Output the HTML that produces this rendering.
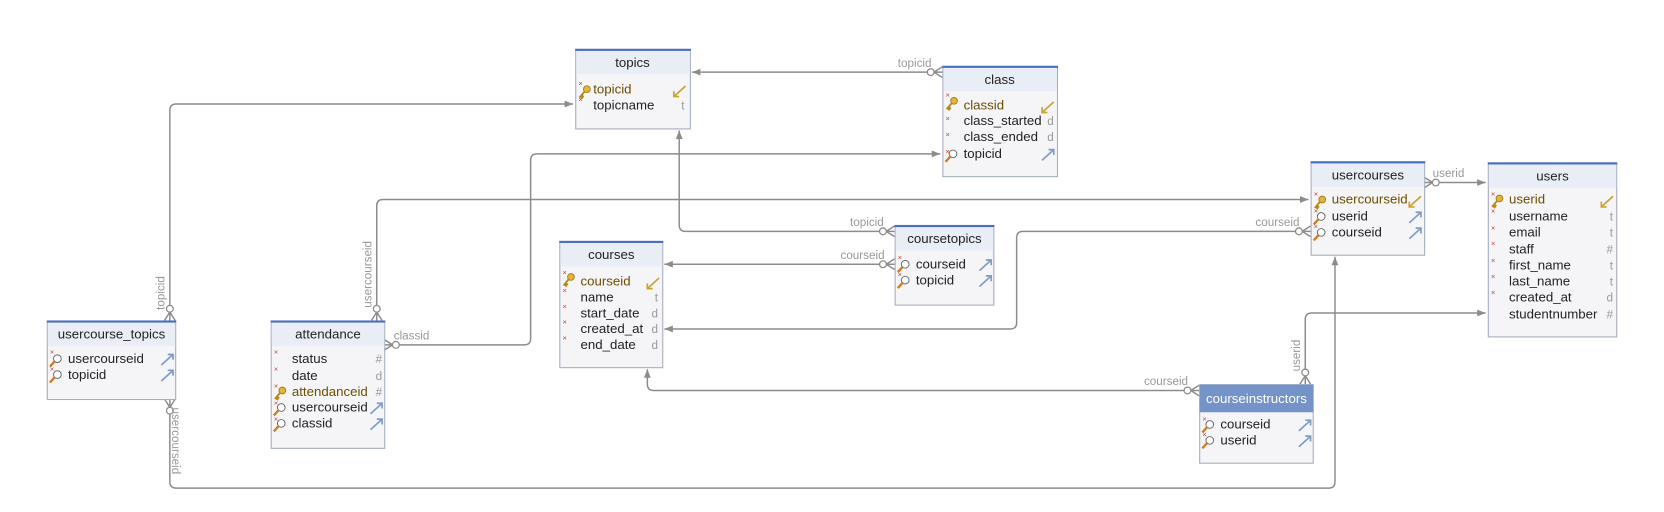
<!DOCTYPE html>
<html><head><meta charset="utf-8"><style>
html,body{margin:0;padding:0;background:#fff;}
svg{display:block;}
text{font-family:"Liberation Sans",sans-serif;}
.t{font-size:12.5px;fill:#222;}
.pk{font-size:12.5px;fill:#6b4e00;}
.h{font-size:12.5px;fill:#222;text-anchor:middle;}
.ty{font-size:11px;fill:#999;text-anchor:end;}
.lb{font-size:11px;fill:#999;}
.c{fill:none;stroke:#8c8c8c;stroke-width:1.4;}
.x{font-size:7px;fill:#c04040;}
</style></head><body>
<svg width="1664" height="512" viewBox="0 0 1568 482.5" xmlns="http://www.w3.org/2000/svg">
<defs>
<marker id="ar" viewBox="0 0 10 10" refX="10" refY="5" markerWidth="8" markerHeight="8" orient="auto-start-reverse" markerUnits="userSpaceOnUse"><path d="M0,1 L10,5 L0,9 z" fill="#8c8c8c"/></marker>
<g id="key"><circle cx="9" cy="-4" r="3.2" fill="#e2b43a" stroke="#a07810" stroke-width="0.8"/><path d="M7,-2 L2,4 M3,3 L5,5 M4,1.5 L6,3.5" stroke="#b88a18" stroke-width="1.8" fill="none"/></g>
<g id="mag"><circle cx="10" cy="-4" r="3.6" fill="#fff" stroke="#666" stroke-width="0.9"/><path d="M7.5,-1.5 L3,3.5" stroke="#d27a20" stroke-width="2.2"/></g>
<g id="fk"><path d="M-12,3 L-1,-7 M-6,-7 L-1,-7 L-1,-2" stroke="#7f9cc8" stroke-width="1.6" fill="none"/></g>
<g id="pka"><path d="M-1,-7 L-12,3 M-12,-2 L-12,3 L-7,3" stroke="#c9a536" stroke-width="1.6" fill="none"/></g>
<g id="crow"><path d="M0,-5 L8,0 L0,5 M0,0 L8,0" class="c"/><circle cx="11" cy="0" r="3.2" fill="#fff" stroke="#8c8c8c" stroke-width="1.2"/></g>
</defs>

<path class="c" d="M876,68 H652" marker-end="url(#ar)"/>
<use href="#crow" transform="translate(888,68) rotate(180)"/>
<text class="lb" x="846" y="63">topicid</text>
<path class="c" d="M160,290 V104 Q160,98 166,98 H540" marker-end="url(#ar)"/>
<use href="#crow" transform="translate(160,302) rotate(-90)"/>
<text class="lb" transform="translate(155,292) rotate(-90)">topicid</text>
<path class="c" d="M374,325 H494 Q500,325 500,319 V151 Q500,145 506,145 H886" marker-end="url(#ar)"/>
<use href="#crow" transform="translate(362,325)"/>
<text class="lb" x="371" y="320">classid</text>
<path class="c" d="M355,290 V194 Q355,188 361,188 H1233" marker-end="url(#ar)"/>
<use href="#crow" transform="translate(355,302) rotate(-90)"/>
<text class="lb" transform="translate(350,290) rotate(-90)">usercourseid</text>
<path class="c" d="M831,218 H646 Q640,218 640,212 V123" marker-end="url(#ar)"/>
<use href="#crow" transform="translate(843,218) rotate(180)"/>
<text class="lb" x="801" y="213">topicid</text>
<path class="c" d="M831,249 H626" marker-end="url(#ar)"/>
<use href="#crow" transform="translate(843,249) rotate(180)"/>
<text class="lb" x="792" y="244">courseid</text>
<path class="c" d="M1223,218 H964 Q958,218 958,224 V304 Q958,310 952,310 H626" marker-end="url(#ar)"/>
<use href="#crow" transform="translate(1235,218) rotate(180)"/>
<text class="lb" x="1183" y="213">courseid</text>
<path class="c" d="M1354,172 H1400" marker-end="url(#ar)"/>
<use href="#crow" transform="translate(1342,172)"/>
<text class="lb" x="1350" y="167">userid</text>
<path class="c" d="M1118,368 H616 Q610,368 610,362 V348" marker-end="url(#ar)"/>
<use href="#crow" transform="translate(1130,368) rotate(180)"/>
<text class="lb" x="1078" y="363">courseid</text>
<path class="c" d="M1230,350 V301 Q1230,295 1236,295 H1400" marker-end="url(#ar)"/>
<use href="#crow" transform="translate(1230,362) rotate(-90)"/>
<text class="lb" transform="translate(1225,350) rotate(-90)">userid</text>
<path class="c" d="M160,388 V454 Q160,460 166,460 H1252 Q1258,460 1258,454 V242" marker-end="url(#ar)"/>
<use href="#crow" transform="translate(160,376) rotate(90)"/>
<text class="lb" transform="translate(162,384) rotate(90)">usercourseid</text>

<g transform="translate(542,46)">
<rect x="0.5" y="0.5" width="108" height="75" fill="#f5f5f7" stroke="#a3abbd"/>
<rect x="1" y="1" width="107" height="23" fill="#e8edf6"/>
<rect x="0" y="0" width="109" height="2" fill="#4a6fc0"/>
<text class="h" x="54" y="17">topics</text>
<text class="x" x="3" y="35">×</text><use href="#key" x="2" y="42"/><text class="pk" x="17" y="42">topicid</text><use href="#pka" x="105" y="42"/>
<text class="x" x="3" y="50">×</text><text class="t" x="17" y="57">topicname</text><text class="ty" x="103" y="57">t</text>
</g>
<g transform="translate(888,62)">
<rect x="0.5" y="0.5" width="108" height="104" fill="#f5f5f7" stroke="#a3abbd"/>
<rect x="1" y="1" width="107" height="23" fill="#e8edf6"/>
<rect x="0" y="0" width="109" height="2" fill="#4a6fc0"/>
<text class="h" x="54" y="17">class</text>
<text class="x" x="3" y="30">×</text><use href="#key" x="2" y="37"/><text class="pk" x="20" y="41">classid</text><use href="#pka" x="106" y="41"/>
<text class="x" x="3" y="52">×</text><text class="t" x="20" y="56">class_started</text><text class="ty" x="105" y="56">d</text>
<text class="x" x="3" y="67">×</text><text class="t" x="20" y="71">class_ended</text><text class="ty" x="105" y="71">d</text>
<text class="x" x="3" y="83">×</text><use href="#mag" x="0" y="87"/><text class="t" x="20" y="87">topicid</text><use href="#fk" x="106" y="86"/>
</g>
<g transform="translate(1235,152)">
<rect x="0.5" y="0.5" width="107" height="88" fill="#f5f5f7" stroke="#a3abbd"/>
<rect x="1" y="1" width="106" height="23" fill="#e8edf6"/>
<rect x="0" y="0" width="108" height="2" fill="#4a6fc0"/>
<text class="h" x="54" y="17">usercourses</text>
<text class="x" x="3" y="33">×</text><use href="#key" x="2" y="40"/><text class="pk" x="20" y="40">usercourseid</text><use href="#pka" x="105" y="40"/>
<text class="x" x="3" y="49">×</text><use href="#mag" x="0" y="56"/><text class="t" x="20" y="56">userid</text><use href="#fk" x="105" y="55"/>
<text class="x" x="3" y="64">×</text><use href="#mag" x="0" y="71"/><text class="t" x="20" y="71">courseid</text><use href="#fk" x="105" y="70"/>
</g>
<g transform="translate(1402,153)">
<rect x="0.5" y="0.5" width="121" height="164" fill="#f5f5f7" stroke="#a3abbd"/>
<rect x="1" y="1" width="120" height="23" fill="#e8edf6"/>
<rect x="0" y="0" width="122" height="2" fill="#4a6fc0"/>
<text class="h" x="61" y="17">users</text>
<text class="x" x="3" y="32">×</text><use href="#key" x="2" y="38"/><text class="pk" x="20" y="39">userid</text><use href="#pka" x="119" y="39"/>
<text class="x" x="3" y="48">×</text><text class="t" x="20" y="55">username</text><text class="ty" x="118" y="55">t</text>
<text class="x" x="3" y="64">×</text><text class="t" x="20" y="70">email</text><text class="ty" x="118" y="70">t</text>
<text class="x" x="3" y="79">×</text><text class="t" x="20" y="86">staff</text><text class="ty" x="118" y="86">#</text>
<text class="x" x="3" y="95">×</text><text class="t" x="20" y="101">first_name</text><text class="ty" x="118" y="101">t</text>
<text class="x" x="3" y="110">×</text><text class="t" x="20" y="116">last_name</text><text class="ty" x="118" y="116">t</text>
<text class="x" x="3" y="125">×</text><text class="t" x="20" y="131">created_at</text><text class="ty" x="118" y="131">d</text>
<text class="t" x="20" y="147">studentnumber</text><text class="ty" x="118" y="147">#</text>
</g>
<g transform="translate(527,227)">
<rect x="0.5" y="0.5" width="97" height="119" fill="#f5f5f7" stroke="#a3abbd"/>
<rect x="1" y="1" width="96" height="23" fill="#e8edf6"/>
<rect x="0" y="0" width="98" height="2" fill="#4a6fc0"/>
<text class="h" x="49" y="17">courses</text>
<text class="x" x="3" y="32">×</text><use href="#key" x="2" y="38"/><text class="pk" x="20" y="42">courseid</text><use href="#pka" x="95" y="42"/>
<text class="x" x="3" y="49">×</text><text class="t" x="20" y="57">name</text><text class="ty" x="93" y="57">t</text>
<text class="x" x="3" y="64">×</text><text class="t" x="20" y="72">start_date</text><text class="ty" x="93" y="72">d</text>
<text class="x" x="3" y="79">×</text><text class="t" x="20" y="87">created_at</text><text class="ty" x="93" y="87">d</text>
<text class="x" x="3" y="94">×</text><text class="t" x="20" y="102">end_date</text><text class="ty" x="93" y="102">d</text>
</g>
<g transform="translate(843,212)">
<rect x="0.5" y="0.5" width="93" height="75" fill="#f5f5f7" stroke="#a3abbd"/>
<rect x="1" y="1" width="92" height="23" fill="#e8edf6"/>
<rect x="0" y="0" width="94" height="2" fill="#4a6fc0"/>
<text class="h" x="47" y="17">coursetopics</text>
<text class="x" x="3" y="33">×</text><use href="#mag" x="0" y="41"/><text class="t" x="20" y="41">courseid</text><use href="#fk" x="92" y="40"/>
<text class="x" x="3" y="49">×</text><use href="#mag" x="0" y="56"/><text class="t" x="20" y="56">topicid</text><use href="#fk" x="92" y="55"/>
</g>
<g transform="translate(44,302)">
<rect x="0.5" y="0.5" width="121" height="74" fill="#f5f5f7" stroke="#a3abbd"/>
<rect x="1" y="1" width="120" height="23" fill="#e8edf6"/>
<rect x="0" y="0" width="122" height="2" fill="#4a6fc0"/>
<text class="h" x="61" y="17">usercourse_topics</text>
<text class="x" x="3" y="32">×</text><use href="#mag" x="0" y="40"/><text class="t" x="20" y="40">usercourseid</text><use href="#fk" x="120" y="39"/>
<text class="x" x="3" y="48">×</text><use href="#mag" x="0" y="55"/><text class="t" x="20" y="55">topicid</text><use href="#fk" x="120" y="54"/>
</g>
<g transform="translate(255,302)">
<rect x="0.5" y="0.5" width="107" height="120" fill="#f5f5f7" stroke="#a3abbd"/>
<rect x="1" y="1" width="106" height="23" fill="#e8edf6"/>
<rect x="0" y="0" width="108" height="2" fill="#4a6fc0"/>
<text class="h" x="54" y="17">attendance</text>
<text class="x" x="3" y="32">×</text><text class="t" x="20" y="40">status</text><text class="ty" x="105" y="40">#</text>
<text class="x" x="3" y="48">×</text><text class="t" x="20" y="56">date</text><text class="ty" x="105" y="56">d</text>
<text class="x" x="3" y="64">×</text><use href="#key" x="2" y="70"/><text class="pk" x="20" y="71">attendanceid</text><text class="ty" x="105" y="71">#</text>
<text class="x" x="3" y="80">×</text><use href="#mag" x="0" y="86"/><text class="t" x="20" y="86">usercourseid</text><use href="#fk" x="106" y="85"/>
<text class="x" x="3" y="95">×</text><use href="#mag" x="0" y="101"/><text class="t" x="20" y="101">classid</text><use href="#fk" x="106" y="100"/>
</g>
<g transform="translate(1130,362)">
<rect x="0.5" y="0.5" width="107" height="74" fill="#f5f5f7" stroke="#a3abbd"/>
<rect x="0.5" y="0.5" width="107" height="26" fill="#7393c9"/>
<text class="h" x="54" y="18" style="fill:#fff">courseinstructors</text>
<text class="x" x="3" y="35">×</text><use href="#mag" x="0" y="42"/><text class="t" x="20" y="42">courseid</text><use href="#fk" x="106" y="41"/>
<text class="x" x="3" y="50">×</text><use href="#mag" x="0" y="57"/><text class="t" x="20" y="57">userid</text><use href="#fk" x="106" y="56"/>
</g>
</svg>
</body></html>
